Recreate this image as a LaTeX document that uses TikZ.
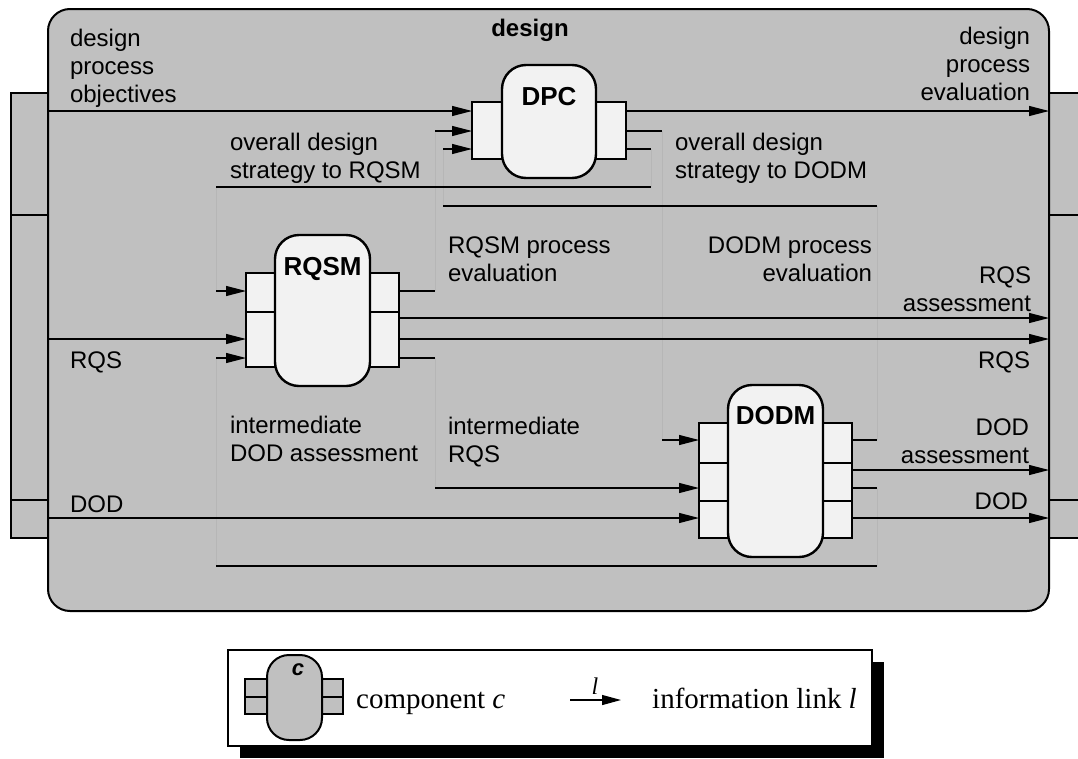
\documentclass[tikz,border=0pt]{standalone}
\usepackage{fontspec}
\setmainfont{Liberation Serif}
\setsansfont{Liberation Sans}
\usetikzlibrary{arrows.meta}
\definecolor{bg}{HTML}{C0C0C0}
\definecolor{pf}{HTML}{F2F2F2}
\definecolor{faint}{HTML}{B6B6B6}
\newcommand\Ltxt[1]{\begin{tabular}[t]{@{}l@{}}#1\end{tabular}}
\newcommand\Rtxt[1]{\begin{tabular}[t]{@{}r@{}}#1\end{tabular}}
\begin{document}
\begin{tikzpicture}[x=1pt,y=-1pt,
 lbl/.style={font=\sffamily\fontsize{24}{28}\selectfont, inner sep=0pt, outer sep=0pt},
 blbl/.style={font=\sffamily\bfseries\fontsize{26}{30}\selectfont, inner sep=0pt, outer sep=0pt, anchor=base},
 port/.style={draw, line width=2.4pt, fill=pf, inner sep=0pt, outer sep=0pt, minimum width=42pt, anchor=north west},
 body/.style={draw, line width=2.4pt, fill=pf, rounded corners=24pt, inner sep=0pt, outer sep=0pt, anchor=north west},
 wire/.style={line width=1.2pt},
 link/.style={line width=1.2pt, -{Triangle[length=20pt,width=10pt]}},
 ghost/.style={line width=1pt, draw=faint},
 tab/.style={draw, line width=2pt, fill=bg, inner sep=0pt, outer sep=0pt, anchor=north west},
 iport/.style={draw, line width=2pt, fill=bg, inner sep=0pt, outer sep=0pt, anchor=north west},
]
\useasboundingbox[fill=white] (0,0) rectangle (1078,758);

% side tabs
\node[tab, minimum width=37pt, minimum height=122pt] (tL1) at (11,93) {};
\node[tab, minimum width=37pt, minimum height=285pt] (tL2) at (11,215) {};
\node[tab, minimum width=37pt, minimum height=38pt] (tL3) at (11,500) {};
\node[tab, minimum width=50pt, minimum height=122pt] (tR1) at (1049,93) {};
\node[tab, minimum width=50pt, minimum height=285pt] (tR2) at (1049,215) {};
\node[tab, minimum width=50pt, minimum height=38pt] (tR3) at (1049,500) {};

% main box
\node[draw, line width=2pt, fill=bg, rounded corners=22pt, minimum width=1001pt, minimum height=602pt, anchor=north west, inner sep=0pt, outer sep=0pt] (design) at (48,9) {};
\node[font=\sffamily\bfseries\fontsize{24}{28}\selectfont, anchor=base, inner sep=0pt] (title) at (530,36) {design};

% coordinates
\coordinate (inL1) at (48,111);
\coordinate (inL2) at (48,339);
\coordinate (inL3) at (48,518);
\coordinate (outR1) at (1049,111);
\coordinate (outR2) at (1049,318);
\coordinate (outR3) at (1049,339);
\coordinate (outR4) at (1049,470);
\coordinate (outR5) at (1049,518);
\coordinate (dpcA) at (472,111);
\coordinate (dpcB) at (472,131);
\coordinate (dpcC) at (472,149);
\coordinate (dpcX) at (626,111);
\coordinate (dpcY) at (626,131);
\coordinate (dpcZ) at (626,149);
\coordinate (rqA) at (246,291);
\coordinate (rqB) at (246,339);
\coordinate (rqC) at (246,358);
\coordinate (rqW) at (399,291);
\coordinate (rqX) at (399,318);
\coordinate (rqY) at (399,339);
\coordinate (rqZ) at (399,358);
\coordinate (doA) at (699,440);
\coordinate (doB) at (699,488);
\coordinate (doC) at (699,518);
\coordinate (doW) at (852,440);
\coordinate (doX) at (852,470);
\coordinate (doY) at (852,488);
\coordinate (doZ) at (852,518);
% bends
\coordinate (k1) at (651,187);
\coordinate (k2) at (216,187);
\coordinate (k3) at (662,440);
\coordinate (k4) at (435,131);
\coordinate (k5) at (877,206);
\coordinate (k6) at (443,206);
\coordinate (k7) at (435,488);
\coordinate (k8) at (877,566);
\coordinate (k9) at (216,566);

% faint routing segments
\draw[ghost] (dpcZ -| k1) -- (k1);
\draw[ghost] (k2) -- (k2 |- rqA);
\draw[ghost] (dpcY -| k3) -- (k3);
\draw[ghost] (rqW -| k4) -- (k4);
\draw[ghost] (doW -| k5) -- (k5);
\draw[ghost] (k6) -- (k6 |- dpcC);
\draw[ghost] (rqZ -| k7) -- (k7);
\draw[ghost] (doY -| k8) -- (k8);
\draw[ghost] (k9) -- (k9 |- rqC);

% visible connectors
\draw[link] (inL1) -- (dpcA);
\draw[link] (dpcX) -- (outR1);
\draw[wire] (dpcZ) -- (dpcZ -| k1);
\draw[wire] (k1) -- (k2);
\draw[link] (k2 |- rqA) -- (rqA);
\draw[wire] (dpcY) -- (dpcY -| k3);
\draw[link] (k3) -- (doA);
\draw[wire] (rqW) -- (rqW -| k4);
\draw[link] (k4) -- (dpcB);
\draw[wire] (doW) -- (doW -| k5);
\draw[wire] (k5) -- (k6);
\draw[link] (k6 |- dpcC) -- (dpcC);
\draw[link] (inL2) -- (rqB);
\draw[link] (rqX) -- (outR2);
\draw[link] (rqY) -- (outR3);
\draw[wire] (rqZ) -- (rqZ -| k7);
\draw[link] (k7) -- (doB);
\draw[wire] (doY) -- (doY -| k8);
\draw[wire] (k8) -- (k9);
\draw[link] (k9 |- rqC) -- (rqC);
\draw[link] (inL3) -- (doC);
\draw[link] (doX) -- (outR4);
\draw[link] (doZ) -- (outR5);

% DPC
\node[port, minimum height=57pt] (DPCl) at (472,102) {};
\node[port, minimum height=57pt] (DPCr) at (584,102) {};
\node[body, minimum width=94pt, minimum height=113pt] (DPC) at (502,65) {};
\node[blbl] (DPCt) at (549,105) {DPC};

% RQSM
\node[port, minimum height=39pt] (RQl1) at (246,273) {};
\node[port, minimum height=55pt] (RQl2) at (246,312) {};
\node[port, minimum height=39pt] (RQr1) at (357,273) {};
\node[port, minimum height=55pt] (RQr2) at (357,312) {};
\node[body, minimum width=95pt, minimum height=151pt] (RQSM) at (275,235) {};
\node[blbl] (RQSMt) at (322.5,275) {RQSM};

% DODM
\node[port, minimum height=40pt] (DOl1) at (699,423) {};
\node[port, minimum height=38pt] (DOl2) at (699,463) {};
\node[port, minimum height=37pt] (DOl3) at (699,501) {};
\node[port, minimum height=40pt] (DOr1) at (810,423) {};
\node[port, minimum height=38pt] (DOr2) at (810,463) {};
\node[port, minimum height=37pt] (DOr3) at (810,501) {};
\node[body, minimum width=95pt, minimum height=172pt] (DODM) at (728,385) {};
\node[blbl] (DODMt) at (775.5,424) {DODM};

% labels
\node[lbl, anchor=base west] (tDPO) at (70,46) {\Ltxt{design\\process\\objectives}};
\node[lbl, anchor=base east] (tDPE) at (1030,44) {\Rtxt{design\\process\\evaluation}};
\node[lbl, anchor=base west] (tOSR) at (230,150) {\Ltxt{overall design\\strategy to RQSM}};
\node[lbl, anchor=base west] (tOSD) at (675,150) {\Ltxt{overall design\\strategy to DODM}};
\node[lbl, anchor=base west] (tRPE) at (448,253) {\Ltxt{RQSM process\\evaluation}};
\node[lbl, anchor=base east] (tDPEv) at (872,253) {\Rtxt{DODM process\\evaluation}};
\node[lbl, anchor=base east] (tRA) at (1031,283) {\Rtxt{RQS\\assessment}};
\node[lbl, anchor=base east] (tRQSr) at (1030,368) {RQS};
\node[lbl, anchor=base west] (tRQSl) at (70,368) {RQS};
\node[lbl, anchor=base west] (tIDA) at (230,433) {\Ltxt{intermediate\\DOD assessment}};
\node[lbl, anchor=base west] (tIR) at (448,434) {\Ltxt{intermediate\\RQS}};
\node[lbl, anchor=base east] (tDA) at (1029,435) {\Rtxt{DOD\\assessment}};
\node[lbl, anchor=base east] (tDODr) at (1028,509) {DOD};
\node[lbl, anchor=base west] (tDODl) at (70,512) {DOD};

% legend
\node[fill=black, minimum width=644pt, minimum height=96pt, anchor=north west, inner sep=0pt, outer sep=0pt] (shadow) at (240,662) {};
\node[draw, line width=1.6pt, fill=white, minimum width=644pt, minimum height=96pt, anchor=north west, inner sep=0pt, outer sep=0pt] (legend) at (228,650) {};
\node[iport, minimum width=32pt, minimum height=18pt] (ipl1) at (245,679) {};
\node[iport, minimum width=32pt, minimum height=17pt] (ipl2) at (245,697) {};
\node[iport, minimum width=31pt, minimum height=18pt] (ipr1) at (312,679) {};
\node[iport, minimum width=31pt, minimum height=17pt] (ipr2) at (312,697) {};
\node[draw, line width=2pt, fill=bg, rounded corners=22pt, minimum width=55pt, minimum height=85pt, anchor=north west, inner sep=0pt, outer sep=0pt] (icon) at (267,655) {};
\node[font=\sffamily\bfseries\itshape\fontsize{22}{24}\selectfont, anchor=base, inner sep=0pt] (iconc) at (298,675) {c};
\node[font=\fontsize{29}{32}\selectfont, anchor=base west, inner sep=0pt] (lcomp) at (356,708) {component \textit{c}};
\coordinate (la) at (570,700);
\coordinate (lb) at (621,700);
\draw[line width=1.2pt, -{Triangle[length=19pt,width=10pt]}] (la) -- (lb);
\node[font=\itshape\fontsize{24}{26}\selectfont, anchor=base, inner sep=0pt] (ll) at (595,694) {l};
\node[font=\fontsize{29}{32}\selectfont, anchor=base west, inner sep=0pt] (linfo) at (652,708) {information link \textit{l}};
\end{tikzpicture}
\end{document}
